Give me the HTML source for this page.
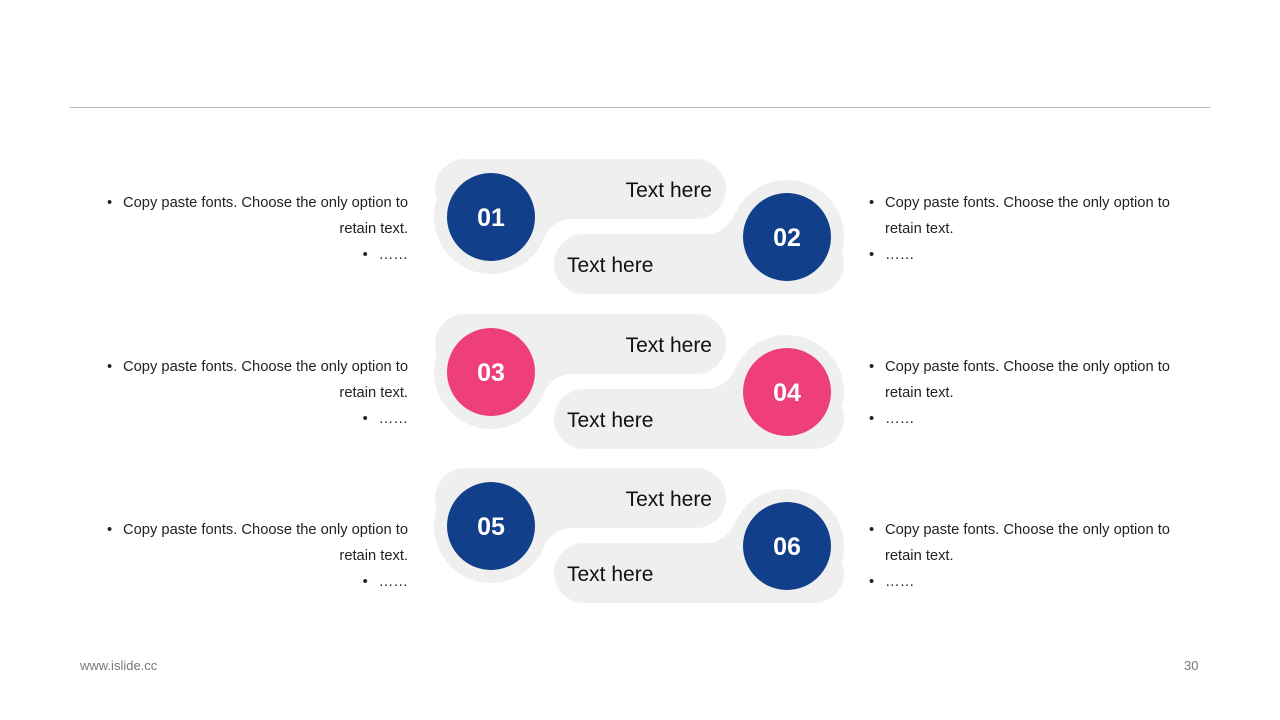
<!DOCTYPE html>
<html><head><meta charset="utf-8"><style>
body{margin:0;width:1280px;height:720px;background:#fff;position:relative;font-family:"Liberation Sans",sans-serif;overflow:hidden}
.t{position:absolute;font-size:14.7px;color:#222;white-space:nowrap;line-height:26px}
.r{text-align:right}
.b{display:inline-block;width:16px;text-align:left}
</style></head><body>
<div style="position:absolute;left:70px;top:107px;width:1140px;height:1px;background:#bbb"></div>
<svg width="1280" height="720" style="position:absolute;left:0;top:0">
<defs>
<g id="blk">
 <polygon points="491,217 572,218 572,249" fill="#efefef"/>
 <circle cx="572" cy="249" r="30" fill="#fff"/>
 <polygon points="787,237 706,235 706,204" fill="#efefef"/>
 <circle cx="706" cy="204" r="30" fill="#fff"/>
 <rect x="435" y="159" width="291" height="60" rx="30" fill="#efefef"/>
 <circle cx="491" cy="217" r="57" fill="#efefef"/>
 <rect x="554" y="234" width="290" height="60" rx="30" fill="#efefef"/>
 <circle cx="787" cy="237" r="57" fill="#efefef"/>
 <text x="712" y="197" font-size="21" text-anchor="end" fill="#111" font-family="Liberation Sans">Text here</text>
 <text x="567" y="272" font-size="21" fill="#111" font-family="Liberation Sans">Text here</text>
</g>
</defs>
<use href="#blk"/>
<use href="#blk" y="155"/>
<use href="#blk" y="309"/>
<g font-family="Liberation Sans" font-weight="bold" font-size="25" fill="#fff" text-anchor="middle">
<circle cx="491" cy="217" r="44" fill="#123f8a"/><text x="491" y="226">01</text>
<circle cx="787" cy="237" r="44" fill="#123f8a"/><text x="787" y="246">02</text>
<circle cx="491" cy="372" r="44" fill="#ef3f78"/><text x="491" y="381">03</text>
<circle cx="787" cy="392" r="44" fill="#ef3f78"/><text x="787" y="401">04</text>
<circle cx="491" cy="526" r="44" fill="#123f8a"/><text x="491" y="535">05</text>
<circle cx="787" cy="546" r="44" fill="#123f8a"/><text x="787" y="555">06</text>
</g>
</svg>
<div class="t r" style="right:872px;top:190px"><span class="b">•</span>Copy paste fonts. Choose the only option to<br>retain text.<br><span class="b">•</span>……</div>
<div class="t" style="left:869px;top:190px"><span class="b">•</span>Copy paste fonts. Choose the only option to<br><span class="b"></span>retain text.<br><span class="b">•</span>……</div>
<div class="t r" style="right:872px;top:354px"><span class="b">•</span>Copy paste fonts. Choose the only option to<br>retain text.<br><span class="b">•</span>……</div>
<div class="t" style="left:869px;top:354px"><span class="b">•</span>Copy paste fonts. Choose the only option to<br><span class="b"></span>retain text.<br><span class="b">•</span>……</div>
<div class="t r" style="right:872px;top:517px"><span class="b">•</span>Copy paste fonts. Choose the only option to<br>retain text.<br><span class="b">•</span>……</div>
<div class="t" style="left:869px;top:517px"><span class="b">•</span>Copy paste fonts. Choose the only option to<br><span class="b"></span>retain text.<br><span class="b">•</span>……</div>
<div class="t" style="left:80px;top:653px;font-size:13px;color:#777">www.islide.cc</div>
<div class="t" style="left:1184px;top:653px;font-size:13px;color:#777">30</div>
</body></html>
